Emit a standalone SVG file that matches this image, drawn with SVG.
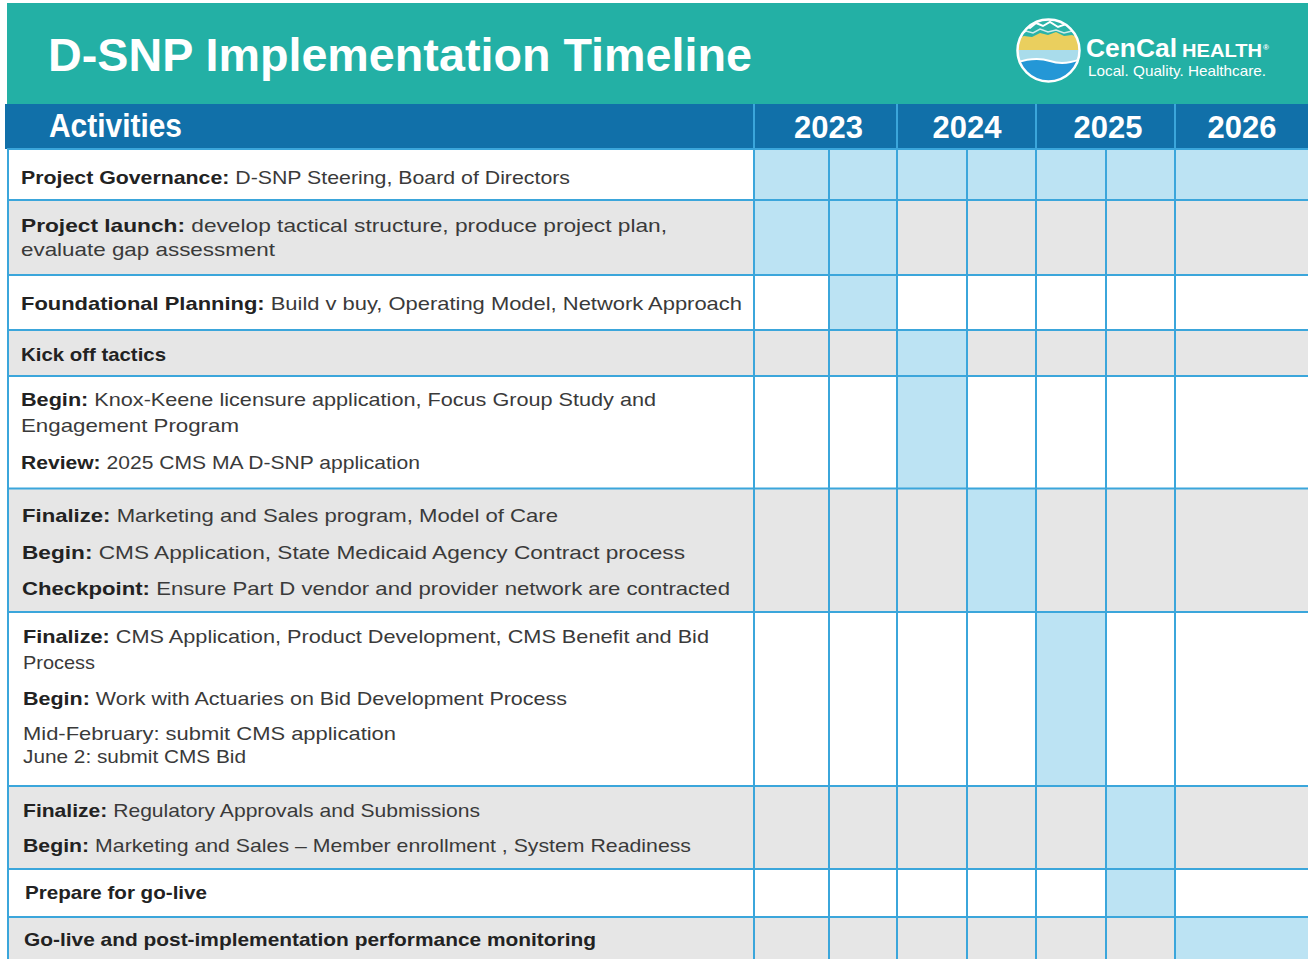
<svg xmlns="http://www.w3.org/2000/svg" width="1308" height="959" viewBox="0 0 1308 959">
<style>
  .t { font-family: "Liberation Sans", Arial, sans-serif; font-size: 18.5px; fill: #3a3a3a; }
  .b { font-weight: bold; fill: #222222; }
  .hd { font-family: "Liberation Sans", Arial, sans-serif; font-weight: bold; fill: #ffffff; }
  .grid line { stroke: #3BA6DB; stroke-width: 2; }
  .on { fill: #BCE3F3; }
  .gray { fill: #E6E6E6; }
  .white { fill: #FFFFFF; }
</style>
<rect x="0" y="0" width="1308" height="959" fill="#ffffff"/>

<g id="banner">
  <rect x="7" y="3" width="1301" height="102" fill="#23B0A5"/>
  <text class="hd" x="48" y="71" font-size="46" textLength="704" lengthAdjust="spacingAndGlyphs">D-SNP Implementation Timeline</text>
</g>

<g id="logo">
  <clipPath id="lc"><circle cx="1048.5" cy="50.5" r="31"/></clipPath>
  <g clip-path="url(#lc)">
    <rect x="1015" y="18" width="68" height="66" fill="#2AB3A8"/>
    <path d="M1016 32 L1024 26 L1030 28 L1036 23 L1043 26 L1050 22 L1058 27 L1066 24 L1074 29 L1082 27" fill="none" stroke="#ffffff" stroke-width="2"/>
    <path d="M1016 37 L1026 31 L1033 33 L1040 29 L1048 32 L1056 30 L1064 33 L1072 31 L1082 35" fill="none" stroke="#CFEDEA" stroke-width="1.5"/>
    <path d="M1015 40 L1024 36 L1032 37 L1040 33 L1048 35 L1056 32 L1064 36 L1072 35 L1083 39 L1083 50 L1015 50 Z" fill="#EACF5E"/>
    <rect x="1015" y="50" width="68" height="12" fill="#A9DCEB"/>
    <path d="M1015 63 Q1035 56 1050 61 T1083 58 L1083 84 L1015 84 Z" fill="#2497D6"/>
    <path d="M1015 63 Q1035 56 1050 61 T1083 58" fill="none" stroke="#ffffff" stroke-width="2"/>
  </g>
  <circle cx="1048.5" cy="50.5" r="31" fill="none" stroke="#ffffff" stroke-width="2.5"/>
  <text class="hd" x="1086" y="57" font-size="26" textLength="91" lengthAdjust="spacingAndGlyphs">CenCal</text>
  <text class="hd" x="1182" y="57" font-size="18" textLength="80" lengthAdjust="spacingAndGlyphs">HEALTH</text>
  <text class="hd" x="1263" y="50" font-size="8">®</text>
  <text class="hd" x="1088" y="76" font-size="14.5" textLength="178" lengthAdjust="spacingAndGlyphs" style="font-weight:normal">Local. Quality. Healthcare.</text>
</g>

<g id="header">
  <rect x="5" y="104" width="1303" height="45" fill="#1170A9"/>
  <text class="hd" x="49" y="137" font-size="33" textLength="133" lengthAdjust="spacingAndGlyphs">Activities</text>
  <text class="hd" x="828.5" y="138" font-size="31" text-anchor="middle">2023</text>
  <text class="hd" x="967" y="138" font-size="31" text-anchor="middle">2024</text>
  <text class="hd" x="1108" y="138" font-size="31" text-anchor="middle">2025</text>
  <text class="hd" x="1242" y="138" font-size="31" text-anchor="middle">2026</text>
</g>

<g id="row1">
  <rect class="white" x="7" y="149" width="1301" height="51"/>
  <rect class="on" x="754" y="149" width="554" height="51"/>
  <text class="t" x="21" y="184" textLength="549" lengthAdjust="spacingAndGlyphs"><tspan class="b">Project Governance:</tspan> D-SNP Steering, Board of Directors</text>
</g>

<g id="row2">
  <rect class="gray" x="7" y="200" width="1301" height="75"/>
  <rect class="on" x="754" y="200" width="143" height="75"/>
  <text class="t" x="21" y="232" textLength="646" lengthAdjust="spacingAndGlyphs"><tspan class="b">Project launch:</tspan> develop tactical structure, produce project plan,</text>
  <text class="t" x="21" y="256" textLength="254" lengthAdjust="spacingAndGlyphs">evaluate gap assessment</text>
</g>

<g id="row3">
  <rect class="white" x="7" y="275" width="1301" height="55"/>
  <rect class="on" x="829" y="275" width="68" height="55"/>
  <text class="t" x="21" y="310" textLength="721" lengthAdjust="spacingAndGlyphs"><tspan class="b">Foundational Planning:</tspan> Build v buy, Operating Model, Network Approach</text>
</g>

<g id="row4">
  <rect class="gray" x="7" y="330" width="1301" height="46"/>
  <rect class="on" x="897" y="330" width="70" height="46"/>
  <text class="t b" x="21" y="361" textLength="145" lengthAdjust="spacingAndGlyphs">Kick off tactics</text>
</g>

<g id="row5">
  <rect class="white" x="7" y="376" width="1301" height="112.5"/>
  <rect class="on" x="897" y="376" width="70" height="112.5"/>
  <text class="t" x="21" y="406" textLength="635" lengthAdjust="spacingAndGlyphs"><tspan class="b">Begin:</tspan> Knox-Keene licensure application, Focus Group Study and</text>
  <text class="t" x="21" y="432" textLength="218" lengthAdjust="spacingAndGlyphs">Engagement Program</text>
  <text class="t" x="21" y="469" textLength="399" lengthAdjust="spacingAndGlyphs"><tspan class="b">Review:</tspan> 2025 CMS MA D-SNP application</text>
</g>

<g id="row6">
  <rect class="gray" x="7" y="488.5" width="1301" height="123.5"/>
  <rect class="on" x="967" y="488.5" width="69" height="123.5"/>
  <text class="t" x="22" y="522" textLength="536" lengthAdjust="spacingAndGlyphs"><tspan class="b">Finalize:</tspan> Marketing and Sales program, Model of Care</text>
  <text class="t" x="22" y="559" textLength="663" lengthAdjust="spacingAndGlyphs"><tspan class="b">Begin:</tspan> CMS Application, State Medicaid Agency Contract process</text>
  <text class="t" x="22" y="595" textLength="708" lengthAdjust="spacingAndGlyphs"><tspan class="b">Checkpoint:</tspan> Ensure Part D vendor and provider network are contracted</text>
</g>

<g id="row7">
  <rect class="white" x="7" y="612" width="1301" height="174"/>
  <rect class="on" x="1036" y="612" width="70" height="174"/>
  <text class="t" x="23" y="643" textLength="686" lengthAdjust="spacingAndGlyphs"><tspan class="b">Finalize:</tspan> CMS Application, Product Development, CMS Benefit and Bid</text>
  <text class="t" x="23" y="669" textLength="72" lengthAdjust="spacingAndGlyphs">Process</text>
  <text class="t" x="23" y="705" textLength="544" lengthAdjust="spacingAndGlyphs"><tspan class="b">Begin:</tspan> Work with Actuaries on Bid Development Process</text>
  <text class="t" x="23" y="740" textLength="373" lengthAdjust="spacingAndGlyphs">Mid-February: submit CMS application</text>
  <text class="t" x="23" y="763" textLength="223" lengthAdjust="spacingAndGlyphs">June 2: submit CMS Bid</text>
</g>

<g id="row8">
  <rect class="gray" x="7" y="786" width="1301" height="83"/>
  <rect class="on" x="1106" y="786" width="69" height="83"/>
  <text class="t" x="23" y="817" textLength="457" lengthAdjust="spacingAndGlyphs"><tspan class="b">Finalize:</tspan> Regulatory Approvals and Submissions</text>
  <text class="t" x="23" y="852" textLength="668" lengthAdjust="spacingAndGlyphs"><tspan class="b">Begin:</tspan> Marketing and Sales – Member enrollment , System Readiness</text>
</g>

<g id="row9">
  <rect class="white" x="7" y="869" width="1301" height="48"/>
  <rect class="on" x="1106" y="869" width="69" height="48"/>
  <text class="t b" x="25" y="899" textLength="182" lengthAdjust="spacingAndGlyphs">Prepare for go-live</text>
</g>

<g id="row10">
  <rect class="gray" x="7" y="917" width="1301" height="42"/>
  <rect class="on" x="1175" y="917" width="133" height="42"/>
  <text class="t b" x="24" y="946" textLength="572" lengthAdjust="spacingAndGlyphs">Go-live and post-implementation performance monitoring</text>
</g>

<g id="connectors" class="grid">
  <line x1="8" y1="149" x2="8" y2="959"/>
  <line x1="754" y1="104" x2="754" y2="959"/>
  <line x1="829" y1="149" x2="829" y2="959"/>
  <line x1="897" y1="104" x2="897" y2="959"/>
  <line x1="967" y1="149" x2="967" y2="959"/>
  <line x1="1036" y1="104" x2="1036" y2="959"/>
  <line x1="1106" y1="149" x2="1106" y2="959"/>
  <line x1="1175" y1="104" x2="1175" y2="959"/>
  <line x1="7" y1="149" x2="1308" y2="149"/>
  <line x1="7" y1="200" x2="1308" y2="200"/>
  <line x1="7" y1="275" x2="1308" y2="275"/>
  <line x1="7" y1="330" x2="1308" y2="330"/>
  <line x1="7" y1="376" x2="1308" y2="376"/>
  <line x1="7" y1="488.5" x2="1308" y2="488.5"/>
  <line x1="7" y1="612" x2="1308" y2="612"/>
  <line x1="7" y1="786" x2="1308" y2="786"/>
  <line x1="7" y1="869" x2="1308" y2="869"/>
  <line x1="7" y1="917" x2="1308" y2="917"/>
</g>
</svg>
